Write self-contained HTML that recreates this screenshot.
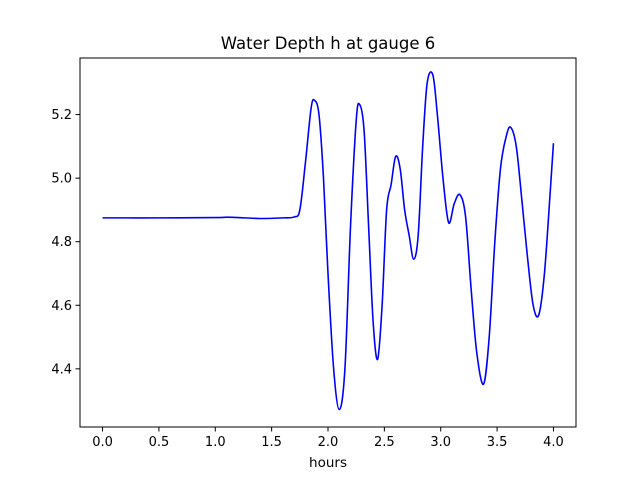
<!DOCTYPE html>
<html><head><meta charset="utf-8"><style>
body{margin:0;background:#fff}
svg{display:block;font-family:"DejaVu Sans","Liberation Sans",sans-serif}
</style></head><body>
<svg width="640" height="480" viewBox="0 0 640 480">
<rect width="640" height="480" fill="#fff"/>
<text x="328" y="49" font-size="16.5" text-anchor="middle">Water Depth h at gauge 6</text>
<g id="xticks"></g>
<g id="yticks"></g>
<path id="line" fill="none" stroke="#0000ff" stroke-width="1.6"/>
<rect x="80" y="58" width="496" height="369" fill="none" stroke="#000" stroke-width="1"/>
<text x="328" y="467" font-size="13.5" text-anchor="middle">hours</text>
</svg>
<script>
const hours=[0,0.5,1.0,1.1,1.2,1.4,1.6,1.7,1.75,1.8,1.85,1.88,1.92,1.96,2.0,2.05,2.1,2.15,2.2,2.25,2.28,2.32,2.36,2.4,2.44,2.48,2.52,2.56,2.6,2.64,2.68,2.72,2.76,2.8,2.84,2.88,2.93,2.97,3.02,3.07,3.12,3.17,3.22,3.27,3.32,3.38,3.43,3.48,3.53,3.58,3.62,3.67,3.72,3.77,3.82,3.87,3.92,3.97,4.0];
const depth=[4.875,4.875,4.876,4.877,4.876,4.873,4.875,4.878,4.90,5.05,5.22,5.245,5.20,5.00,4.70,4.40,4.272,4.40,4.85,5.18,5.232,5.15,4.85,4.55,4.43,4.60,4.90,4.98,5.068,5.03,4.90,4.82,4.745,4.82,5.10,5.30,5.325,5.20,5.00,4.86,4.92,4.948,4.88,4.65,4.45,4.352,4.50,4.80,5.03,5.13,5.16,5.10,4.93,4.75,4.60,4.57,4.70,4.95,5.11];
const xTicks=[0,0.5,1.0,1.5,2.0,2.5,3.0,3.5,4.0];
const yTicks=[4.4,4.6,4.8,5.0,5.2];
const X0=80,X1=576,Y0=427,Y1=58,xmin=-0.2,xmax=4.2,ymin=4.217,ymax=5.378;
const sx=v=>X0+(v-xmin)/(xmax-xmin)*(X1-X0);
const sy=v=>Y0-(v-ymin)/(ymax-ymin)*(Y0-Y1);
const NS='http://www.w3.org/2000/svg';
const xg=document.getElementById('xticks'),yg=document.getElementById('yticks');
xTicks.forEach(t=>{
 const l=document.createElementNS(NS,'line');
 
 
 l.setAttribute('x1',sx(t));l.setAttribute('x2',sx(t));l.setAttribute('y1',Y0);l.setAttribute('y2',Y0+4.5);l.setAttribute('stroke','#000');
 xg.appendChild(l);
 const tx=document.createElementNS(NS,'text');
 
 
 tx.setAttribute('x',sx(t));tx.setAttribute('y',Y0+19);tx.setAttribute('font-size','13');tx.setAttribute('text-anchor','middle');
 tx.textContent=t.toFixed(1);xg.appendChild(tx);
});
yTicks.forEach(t=>{
 const l=document.createElementNS(NS,'line');
 
 
 l.setAttribute('x1',X0-4.5);l.setAttribute('x2',X0);l.setAttribute('y1',sy(t));l.setAttribute('y2',sy(t));l.setAttribute('stroke','#000');
 yg.appendChild(l);
 const tx=document.createElementNS(NS,'text');
 
 
 tx.setAttribute('x',X0-8);tx.setAttribute('y',sy(t)+4.5);tx.setAttribute('font-size','13');tx.setAttribute('text-anchor','end');
 tx.textContent=t.toFixed(1);yg.appendChild(tx);
});
const P=hours.map((h,i)=>[sx(h),sy(depth[i])]);
let d='M'+P[0][0]+','+P[0][1];
for(let i=0;i<P.length-1;i++){
 const p0=P[Math.max(0,i-1)],p1=P[i],p2=P[i+1],p3=P[Math.min(P.length-1,i+2)];
 const c1=[p1[0]+(p2[0]-p0[0])/6,p1[1]+(p2[1]-p0[1])/6];
 const c2=[p2[0]-(p3[0]-p1[0])/6,p2[1]-(p3[1]-p1[1])/6];
 d+=`C${c1[0]},${c1[1]} ${c2[0]},${c2[1]} ${p2[0]},${p2[1]}`;
}
document.getElementById('line').setAttribute('d',d);
</script>
</body></html>
